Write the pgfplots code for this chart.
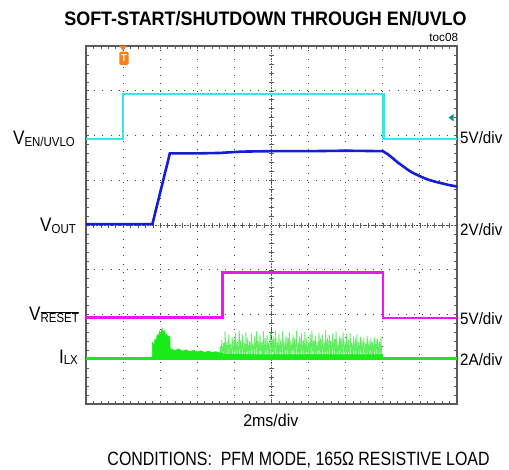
\documentclass[border=0pt]{standalone}
\usepackage{pgfplots}
\pgfplotsset{compat=1.18}
\usepackage{fontspec}
\setmainfont{Liberation Sans}
\definecolor{framegray}{RGB}{90,90,90}
\definecolor{cyanT}{RGB}{55,230,235}
\definecolor{blueT}{RGB}{20,30,210}
\definecolor{magT}{RGB}{240,20,240}
\definecolor{greenT}{RGB}{25,235,25}
\definecolor{greenL}{RGB}{95,238,95}
\definecolor{trig}{RGB}{255,125,20}
\definecolor{tealT}{RGB}{0,150,150}
\newcommand{\lab}[2]{\scalebox{0.88}[1]{\fontsize{19.5}{20}\selectfont #1\raisebox{-1.7pt}{\fontsize{13}{13}\selectfont #2}}}
\newcommand{\rlab}[1]{\scalebox{0.92}[1]{\fontsize{16.5}{17}\selectfont #1}}
\begin{document}
\begin{tikzpicture}
% centre crosshair with fine ticks
\begin{axis}[at={(0,0)}, anchor=south west, scale only axis, width=371pt, height=358pt,
  xmin=-5, xmax=5, ymin=-4, ymax=4, axis lines=middle,
  axis line style={-, draw=framegray, densely dotted, line width=0.6pt},
  every inner x axis line/.append style={-}, every inner y axis line/.append style={-},
  xtick={-5,-4.8,...,5}, ytick={-4,-3.8,...,4}, xticklabels={}, yticklabels={},
  tick align=center, major tick length=5pt,
  tick style={draw=framegray, line width=0.5pt, solid}]
\end{axis}
\begin{axis}[at={(0,0)}, anchor=south west, scale only axis, width=371pt, height=358pt,
  xmin=0, xmax=10, ymin=0, ymax=8,
  xtick={0,...,10}, ytick={0,...,8},
  minor xtick={0,0.2,...,10}, minor ytick={0,0.2,...,8},
  xticklabels={}, yticklabels={},
  tick align=inside, major tick length=3pt, minor tick length=3pt,
  tick style={draw=framegray, line width=0.6pt},
  grid=major,
  grid style={draw=black!75, line width=0.9pt, dash pattern=on 0.9pt off 7.3pt},
  axis line style={draw=framegray, line width=1.6pt}]
% I_LX switching spikes
\addplot[greenL, line width=0.8pt] coordinates {
(3.60,1.04)
(3.62,1.30)(3.645,1.04)(3.66,1.43)(3.685,1.04)(3.71,1.36)(3.735,1.04)(3.75,1.62)(3.775,1.04)
(3.80,1.40)(3.825,1.04)(3.85,1.55)(3.875,1.04)(3.89,1.33)(3.915,1.04)(3.94,1.50)(3.965,1.04)
(3.99,1.45)(4.015,1.04)(4.03,1.60)(4.055,1.04)(4.08,1.38)(4.105,1.04)(4.13,1.65)(4.155,1.04)
(4.17,1.42)(4.195,1.04)(4.22,1.55)(4.245,1.04)(4.27,1.36)(4.295,1.04)(4.31,1.60)(4.335,1.04)
(4.36,1.48)(4.385,1.04)(4.41,1.40)(4.435,1.04)(4.46,1.58)(4.485,1.04)(4.50,1.35)(4.525,1.04)
(4.55,1.52)(4.575,1.04)(4.60,1.62)(4.625,1.04)(4.64,1.41)(4.665,1.04)(4.69,1.56)(4.715,1.04)
(4.74,1.38)(4.765,1.04)(4.78,1.63)(4.805,1.04)(4.83,1.47)(4.855,1.04)(4.88,1.54)(4.905,1.04)
(4.92,1.36)(4.945,1.04)(4.97,1.60)(4.995,1.04)(5.02,1.45)(5.045,1.04)(5.06,1.51)(5.085,1.04)
(5.11,1.64)(5.135,1.04)(5.16,1.39)(5.185,1.04)(5.20,1.57)(5.225,1.04)(5.25,1.44)(5.275,1.04)
(5.30,1.62)(5.325,1.04)(5.34,1.37)(5.365,1.04)(5.39,1.53)(5.415,1.04)(5.44,1.48)(5.465,1.04)
(5.48,1.60)(5.505,1.04)(5.53,1.40)(5.555,1.04)(5.58,1.55)(5.605,1.04)(5.62,1.46)(5.645,1.04)
(5.67,1.63)(5.695,1.04)(5.72,1.38)(5.745,1.04)(5.76,1.52)(5.785,1.04)(5.81,1.58)(5.835,1.04)
(5.86,1.42)(5.885,1.04)(5.90,1.61)(5.925,1.04)(5.95,1.47)(5.975,1.04)(6.00,1.36)(6.025,1.04)
(6.04,1.56)(6.065,1.04)(6.09,1.65)(6.115,1.04)(6.14,1.43)(6.165,1.04)(6.18,1.52)(6.205,1.04)
(6.23,1.39)(6.255,1.04)(6.28,1.60)(6.305,1.04)(6.32,1.46)(6.345,1.04)(6.37,1.55)(6.395,1.04)
(6.42,1.37)(6.445,1.04)(6.46,1.66)(6.485,1.04)(6.51,1.48)(6.535,1.04)(6.56,1.54)(6.585,1.04)
(6.60,1.41)(6.625,1.04)(6.65,1.59)(6.675,1.04)(6.70,1.45)(6.725,1.04)(6.74,1.62)(6.765,1.04)
(6.79,1.38)(6.815,1.04)(6.84,1.53)(6.865,1.04)(6.88,1.47)(6.905,1.04)(6.93,1.60)(6.955,1.04)
(6.98,1.40)(7.005,1.04)(7.02,1.56)(7.045,1.04)(7.07,1.44)(7.095,1.04)(7.12,1.58)(7.145,1.04)
(7.16,1.36)(7.185,1.04)(7.21,1.51)(7.235,1.04)(7.26,1.46)(7.285,1.04)(7.30,1.55)(7.325,1.04)
(7.35,1.39)(7.375,1.04)(7.40,1.50)(7.425,1.04)(7.44,1.43)(7.465,1.04)(7.49,1.48)(7.515,1.04)
(7.54,1.37)(7.565,1.04)(7.58,1.52)(7.605,1.04)(7.63,1.42)(7.655,1.04)(7.68,1.47)(7.705,1.04)
(7.72,1.38)(7.745,1.04)(7.77,1.50)(7.795,1.04)(7.82,1.44)(7.845,1.04)(7.86,1.46)(7.885,1.04)
(7.91,1.40)(7.935,1.04)(7.95,1.50)(7.975,1.04)(8.00,1.04)};
% I_LX soft-start burst and band
\addplot[greenT, fill=greenT, line width=0.6pt] coordinates {
(1.79,0.99)(1.79,1.37)(1.83,1.32)(1.86,1.45)(1.89,1.40)(1.92,1.55)(1.95,1.50)(1.98,1.62)
(2.01,1.56)(2.05,1.69)(2.08,1.60)(2.11,1.64)(2.14,1.52)(2.17,1.56)(2.21,1.50)(2.26,1.52)
(2.27,1.25)(2.31,1.22)(2.40,1.20)(2.50,1.23)(2.60,1.18)(2.70,1.21)(2.80,1.17)(2.90,1.20)
(3.00,1.16)(3.10,1.19)(3.20,1.15)(3.30,1.18)(3.40,1.15)(3.50,1.17)(3.60,1.14)(3.70,1.12)
(4.50,1.10)(6.00,1.10)(8.00,1.10)(8.00,0.99)} -- cycle;
% I_LX baseline
\addplot[greenT, line width=2.6pt] coordinates {(0,1.02)(10,1.02)};
% V_RESET
\addplot[magT, line width=2.4pt] coordinates {(0,1.93)(3.68,1.93)(3.68,2.94)(8.01,2.94)(8.01,1.92)(10,1.92)};
% V_OUT
\addplot[blueT, line width=2.6pt] coordinates {(0,4.02)(1.79,4.02)(2.26,5.60)(3.0,5.60)(3.6,5.61)(4.2,5.64)(5,5.65)(6,5.65)(7,5.66)(8.0,5.65)(8.1,5.60)(8.2,5.54)(8.3,5.47)(8.4,5.40)(8.5,5.34)(8.6,5.28)(8.7,5.22)(8.8,5.17)(8.9,5.13)(9.0,5.09)(9.2,5.02)(9.4,4.97)(9.6,4.93)(9.8,4.89)(10,4.86)};
% V_EN/UVLO
\addplot[cyanT, line width=2.2pt] coordinates {(0,5.92)(1.0,5.92)(1.0,6.93)(8.02,6.93)(8.02,5.92)(10,5.92)};
\end{axis}
\begin{scope}[x=1pt, y=1pt]
\useasboundingbox (-86,-65) rectangle (423,404);
\node[anchor=base, inner sep=0] at (179.5,378) {\scalebox{0.92}[1]{\fontsize{19.5}{20}\selectfont\bfseries SOFT-START/SHUTDOWN THROUGH EN/UVLO}};
\node[anchor=base east, inner sep=0] at (372.3,362.3) {\fontsize{11.7}{12}\selectfont toc08};
\node[anchor=base east, inner sep=0] at (-11,259) {\lab{V}{EN/UVLO}};
\node[anchor=base east, inner sep=0] at (-10,172.3) {\lab{V}{OUT}};
\node[anchor=base east, inner sep=0] at (-7,83.3) {\lab{V}{$\overline{\mbox{RESET}}$}};
\node[anchor=base east, inner sep=0] at (-8,41) {\lab{I}{LX}};
\node[anchor=base west, inner sep=0] at (374,260.7) {\rlab{5V/div}};
\node[anchor=base west, inner sep=0] at (374,168.3) {\rlab{2V/div}};
\node[anchor=base west, inner sep=0] at (374,80) {\rlab{5V/div}};
\node[anchor=base west, inner sep=0] at (374,39) {\rlab{2A/div}};
\node[anchor=base, inner sep=0] at (184.8,-22.7) {\scalebox{0.94}[1]{\fontsize{17}{18}\selectfont 2ms/div}};
\node[anchor=base west, inner sep=0] at (21.3,-61.5) {\scalebox{0.83}[1]{\fontsize{19.2}{20}\selectfont CONDITIONS:\ \ PFM MODE, 165\symbol{"03A9} RESISTIVE LOAD}};
% trigger marker
\fill[trig] (33,358) -- (41,358) -- (37,353.5) -- cycle;
\fill[trig, rounded corners=1.5pt] (33.3,339) rectangle (42.7,352.3);
\node[text=white, inner sep=0] at (38,345.6) {\fontsize{10}{10}\selectfont\bfseries T};
% level marker
\fill[tealT] (362.5,286.3) -- (367.5,290) -- (367.5,282.6) -- cycle;
\end{scope}
\end{tikzpicture}
\end{document}
